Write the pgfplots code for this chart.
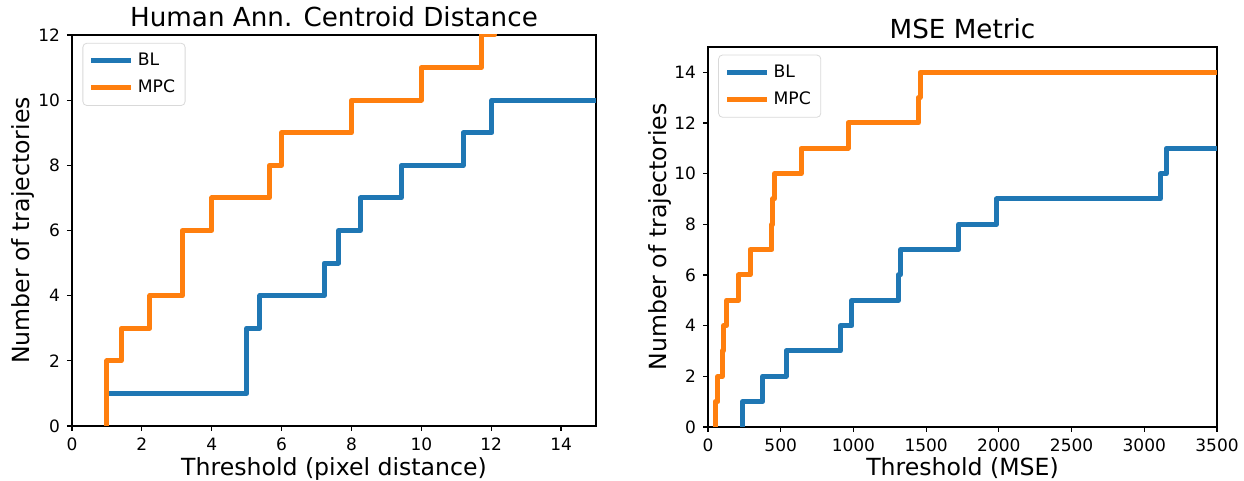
\documentclass[border=0pt]{standalone}
\usepackage{fontspec}
\setmainfont{DejaVu Sans}
\usepackage{pgfplots}
\pgfplotsset{compat=1.18}
\definecolor{tabblue}{HTML}{1F77B4}
\definecolor{taborange}{HTML}{FF7F0E}

\pgfplotsset{
  panel/.style={
    scale only axis,
    anchor=south west,
    axis line style={line width=0.6pt},
    tick pos=left,
    tick align=outside,
    major tick length=2.5pt,
    every tick/.style={black, line width=0.6pt},
    /pgf/number format/assume math mode=true,
    tick label style={font=\fontsize{8.5}{10}\selectfont},
    label style={font=\fontsize{11.8}{14}\selectfont},
    every axis title shift=0pt,
    title style={font=\fontsize{13.1}{15}\selectfont,
      at={(axis description cs:0.5,1)}, anchor=base, yshift=4pt},
    xlabel style={at={([yshift=-25pt]axis description cs:0.5,0)}, anchor=base},
    ylabel style={at={([xshift=-21pt]axis description cs:0,0.5)}, anchor=base},
    ylabel={Number of trajectories},
    legend style={at={(0.02,0.98)}, anchor=north west,
      font=\fontsize{8.6}{10.3}\selectfont,
      draw=black!15, rounded corners=2pt, fill=white,
      row sep=1.5pt, inner sep=3pt},
    legend cell align=left,
    legend image code/.code={\draw[#1, line width=2.5pt] (0pt,0pt) -- (20pt,0pt);},
  },
  step/.style={const plot mark left, line width=2.5pt, line join=round},
}

\begin{document}
\begin{tikzpicture}[x=1pt,y=1pt]
\useasboundingbox (0,0) rectangle (622,240.5);

% pixel-distance thresholds
\begin{axis}[panel,
  at={(36pt,27.5pt)}, width=262pt, height=195.5pt,
  xmin=0, xmax=15, ymin=0, ymax=12,
  xtick={0,2,...,14}, ytick={0,2,...,12},
  title={Human Ann. Centroid Distance},
  xlabel={Threshold (pixel distance)},
]
\addplot[step, tabblue] coordinates {
  (1,0) (1,1) (5.0,3) (5.38,4) (7.22,5) (7.63,6) (8.26,7)
  (9.43,8) (11.2,9) (12.02,10) (15,10)
};
\addlegendentry{BL}
\addplot[step, taborange] coordinates {
  (1,0) (1,2) (1.41,3) (2.23,4) (3.16,6) (4.0,7) (5.65,8)
  (6.0,9) (8.0,10) (10.0,11) (11.72,12) (12.1,13) (15,13)
};
\addlegendentry{MPC}
\end{axis}

% MSE thresholds
\begin{axis}[panel,
  at={(354pt,27pt)}, width=254.5pt, height=190pt,
  xmin=0, xmax=3500, ymin=0, ymax=15,
  xtick={0,500,...,3500}, ytick={0,2,...,14},
  scaled x ticks=false,
  xticklabel style={/pgf/number format/1000 sep={}},
  title={MSE Metric},
  xlabel={Threshold (MSE)},
  xlabel style={at={([yshift=-24.5pt]axis description cs:0.5,0)}},
]
\addplot[step, tabblue] coordinates {
  (237,0) (237,1) (375,2) (537,3) (911,4) (990,5) (1310,6)
  (1325,7) (1723,8) (1983,9) (3110,10) (3152,11) (3500,11)
};
\addlegendentry{BL}
\addplot[step, taborange] coordinates {
  (50,0) (50,1) (68,2) (98,3) (106,4) (128,5) (210,6)
  (289,7) (440,8) (446,9) (458,10) (640,11) (963,12)
  (1446,13) (1458,14) (3500,14)
};
\addlegendentry{MPC}
\end{axis}
\end{tikzpicture}
\end{document}
